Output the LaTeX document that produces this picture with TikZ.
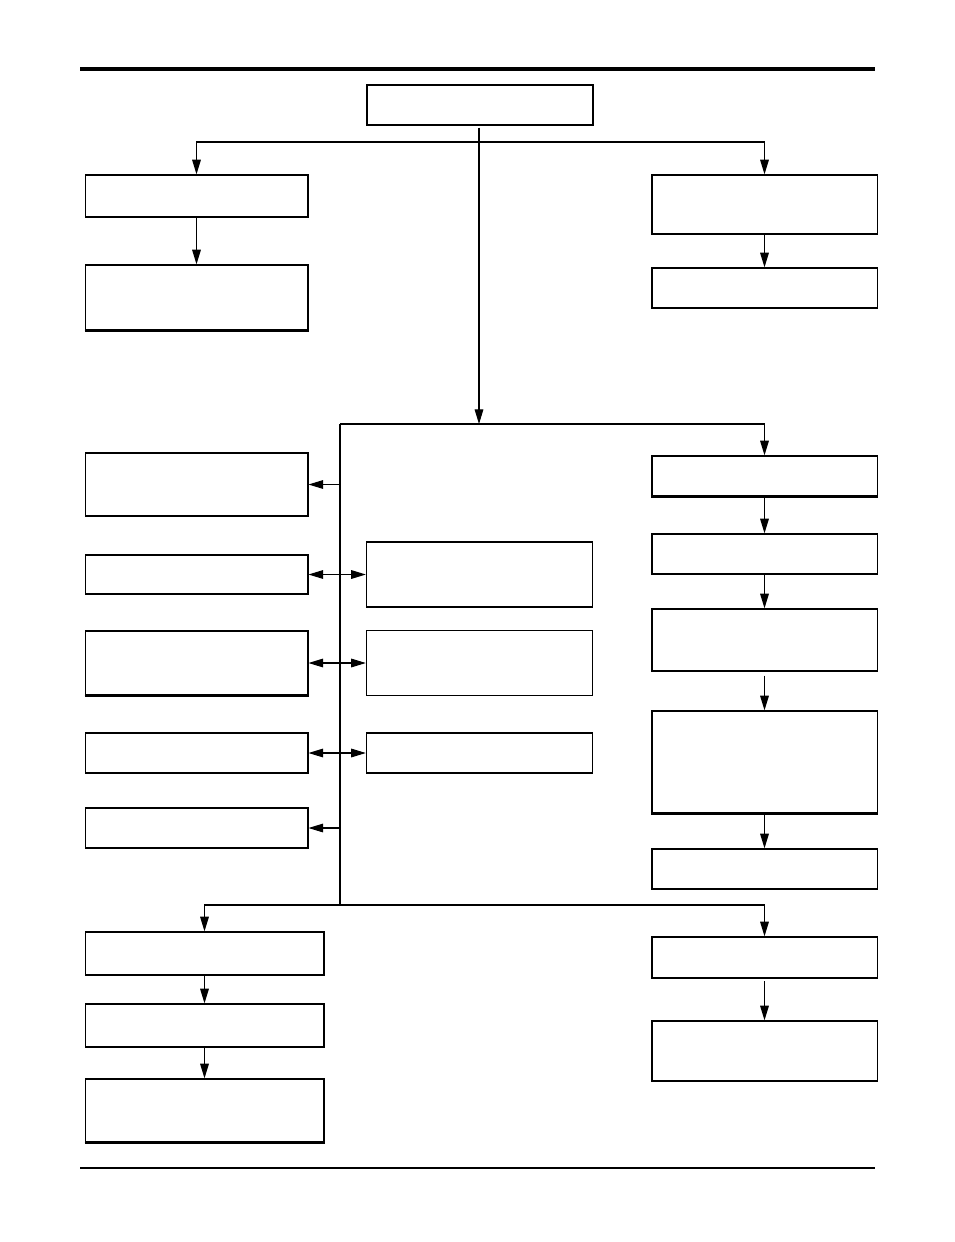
\documentclass[tikz,border=0pt]{standalone}
\usepackage{tikz}
\usetikzlibrary{arrows.meta, positioning, calc}

\begin{document}
\begin{tikzpicture}[
  x=0.75pt, y=-0.75pt,
  box/.style={draw, line width=1pt, inner sep=0pt, minimum width=167pt, minimum height=30pt},
  mbox/.style={box, minimum width=169.5pt},
  rbox/.style={box, minimum width=169pt},
  bbox/.style={box, minimum width=179pt},
  arrow/.style={-{Triangle[length=11pt, width=6.5pt]}, line width=0.8pt},
  darrow/.style={{Triangle[length=11pt, width=6.5pt]}-{Triangle[length=11pt, width=6.5pt]}, line width=0.8pt},
  heavy/.style={line width=1.7pt}
]
\useasboundingbox (0,0) rectangle (954,1242);

% page rules
\draw[line width=2.4pt] (80,69) -- (875,69);
\draw[line width=0.9pt] (80,1168) -- (875,1168);

% top
\node[mbox] (top) at (480,105) {};

\node[box, minimum height=31.5pt] (lA) at (196.5,196) {};
\node[box, minimum height=48.75pt] (lB) at (196.5,297.5) {};
\node[rbox, minimum height=44.25pt] (rA) at (764.5,204.5) {};
\node[rbox] (rB) at (764.5,288) {};

% middle, left column
\node[box, minimum height=47.25pt] (m1) at (196.5,484.5) {};
\node[box, minimum height=29.25pt] (m2) at (196.5,574.5) {};
\node[box, minimum height=48pt] (m3) at (196.5,663) {};
\node[box] (m4) at (196.5,753) {};
\node[box] (m5) at (196.5,828) {};

% middle, centre column
\node[mbox, minimum height=48.75pt] (c1) at (479.5,574.5) {};
\node[mbox, minimum height=48.75pt] (c2) at (479.5,663) {};
\node[mbox] (c3) at (479.5,753) {};

% middle, right column
\node[rbox] (q1) at (764.5,476) {};
\node[rbox] (q2) at (764.5,554) {};
\node[rbox, minimum height=46.5pt] (q3) at (764.5,640) {};
\node[rbox, minimum height=76.5pt] (q4) at (764.5,762) {};
\node[rbox] (q5) at (764.5,869) {};

% bottom
\node[bbox, minimum height=32.25pt] (b1) at (204.5,953.5) {};
\node[bbox, minimum height=32.25pt] (b2) at (204.5,1025.5) {};
\node[bbox, minimum height=47.25pt] (b3) at (204.5,1110.5) {};
\node[rbox, minimum height=30.75pt] (d1) at (764.5,957.5) {};
\node[rbox, minimum height=45pt] (d2) at (764.5,1051) {};

% heavier bottom edges
\foreach \n in {lB, m3, q1, q4, b3}
  \draw[heavy] (\n.south west) -- (\n.south east);

% junctions
\coordinate (j1) at (479,142);
\coordinate (j2) at (479,424);
\coordinate (sp) at (340,424);
\coordinate (spb) at (340,905);

\draw[arrow] ([yshift=-1.5pt]top.south -| j1) -- (j2);
\draw[arrow] (j1) -| (lA.north);
\draw[arrow] (j1) -| (rA.north);
\draw[arrow] (lA) -- (lB);
\draw[arrow] (rA) -- (rB);

\draw[line width=0.8pt] (sp) -- (j2);
\draw[line width=0.8pt] (sp) -- (spb);
\draw[arrow] (j2) -| (q1.north);
\draw[arrow] (q1) -- (q2);
\draw[arrow] (q2) -- (q3);
\draw[arrow] ([yshift=-3pt]q3.south) -- (q4);
\draw[arrow] (q4) -- (q5);

\draw[arrow] (sp |- m1.east) -- (m1.east);
\draw[darrow] (m2.east) -- (c1.west);
\draw[darrow] (m3.east) -- (m3.east -| c2.west);
\draw[darrow] (m4.east) -- (c3.west);
\draw[arrow] (sp |- m5.east) -- (m5.east);

\draw[arrow] (spb) -| (b1.north);
\draw[arrow] (spb) -| (d1.north);
\draw[arrow] (b1) -- (b2);
\draw[arrow] (b2) -- (b3);
\draw[arrow] ([yshift=-2pt]d1.south) -- (d2);
\end{tikzpicture}
\end{document}
